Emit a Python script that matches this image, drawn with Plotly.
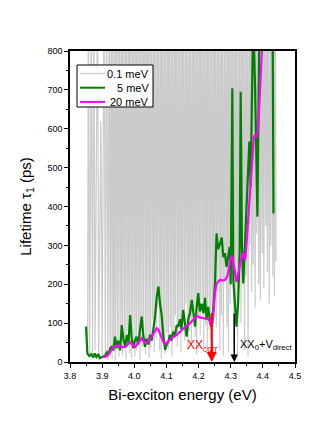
import plotly.graph_objects as go

# ---- data ----
gray_energy = [
    3.855, 3.857, 3.861, 3.866, 3.870, 3.874, 3.878, 3.886, 3.889, 3.896,
    3.900, 3.906, 3.910, 3.914, 3.918, 3.922, 3.925,
    3.928, 3.931, 3.933, 3.936, 3.939, 3.941, 3.944, 3.947, 3.950, 3.952,
    3.955, 3.958, 3.961, 3.963, 3.966, 3.969, 3.972, 3.974, 3.977, 3.980,
    3.983, 3.985, 3.988, 3.991, 3.994, 3.996, 3.999, 4.002, 4.005, 4.007,
    4.010, 4.013, 4.016, 4.018, 4.021, 4.024, 4.027, 4.029, 4.032, 4.035,
    4.038, 4.040, 4.043, 4.046, 4.049, 4.051, 4.054, 4.057, 4.060, 4.062,
    4.065, 4.068, 4.071, 4.073, 4.076, 4.079, 4.082, 4.084, 4.087, 4.090,
    4.093, 4.095, 4.098, 4.101, 4.104, 4.106, 4.109, 4.112, 4.115, 4.117,
    4.120, 4.123, 4.126, 4.128, 4.131, 4.134, 4.137, 4.139, 4.142, 4.145,
    4.148, 4.150, 4.153, 4.156, 4.159, 4.161, 4.164, 4.167, 4.170, 4.172,
    4.175, 4.178, 4.181, 4.183, 4.186, 4.189, 4.192, 4.194, 4.197, 4.200,
    4.203, 4.205, 4.208, 4.211, 4.214, 4.216, 4.219, 4.222, 4.225, 4.227,
    4.230, 4.233, 4.236, 4.238, 4.241, 4.244, 4.247, 4.249, 4.252, 4.255,
    4.258, 4.260, 4.263, 4.266, 4.269, 4.271, 4.274, 4.277, 4.280, 4.282,
    4.285, 4.288, 4.291, 4.293, 4.296, 4.299, 4.302, 4.304, 4.307, 4.310,
    4.313, 4.315, 4.318, 4.321, 4.324, 4.326, 4.329, 4.332, 4.335, 4.337,
    4.340, 4.343, 4.346, 4.348, 4.351, 4.354, 4.357, 4.359, 4.362, 4.365,
    4.368, 4.370, 4.373, 4.376, 4.379, 4.381, 4.384, 4.387, 4.390, 4.392,
    4.395, 4.398, 4.401, 4.403, 4.406, 4.409, 4.412, 4.414, 4.417, 4.420,
    4.423, 4.425, 4.428, 4.431, 4.434, 4.436, 4.439, 4.441,
]
gray_tau = [
    60, 1000, 20, 900, 10, 1000, 30, 1000, 5, 620,
    10, 1000, 20, 1000, 5, 1000, 15,
    1000, 8, 1000, 25, 900, 3, 1000, 45, 1000, 12,
    1000, 60, 1000, 18, 1000, 35, 1000, 6, 1000, 80,
    1000, 22, 1000, 10, 1000, 50, 1000, 15, 1000, 30,
    1000, 70, 1000, 5, 1000, 40, 1000, 95, 1000, 20,
    1000, 55, 1000, 12, 1000, 35, 1000, 110, 1000, 25,
    1000, 60, 1000, 140, 1000, 30, 1000, 8, 1000, 50,
    1000, 20, 1000, 75, 1000, 35, 1000, 90, 1000, 15,
    1000, 60, 1000, 120, 1000, 40, 1000, 85, 1000, 25,
    1000, 100, 1000, 55, 1000, 150, 1000, 30, 1000, 80,
    1000, 45, 1000, 130, 1000, 65, 1000, 20, 1000, 110,
    1000, 70, 1000, 160, 1000, 40, 1000, 95, 1000, 30,
    1000, 85, 1000, 60, 1000, 20, 1000, 140, 1000, 90,
    1000, 180, 1000, 30, 1000, 120, 1000, 15, 1000, 210,
    1000, 90, 1000, 25, 1000, 150, 1000, 240, 1000, 40,
    1000, 130, 1000, 20, 1000, 190, 1000, 100, 1000, 260,
    1000, 30, 1000, 220, 1000, 15, 1000, 300, 1000, 180,
    1000, 250, 1000, 140, 1000, 330, 1000, 200, 1000, 160,
    1000, 280, 1000, 190, 1000, 350, 1000, 230, 1000, 150,
    1000, 300, 1000, 220, 1000, 170, 1000, 260,
]

green_energy = [
    3.850, 3.854, 3.860, 3.866, 3.872, 3.877, 3.882, 3.888, 3.893, 3.899,
    3.904, 3.910, 3.915, 3.920, 3.925, 3.930, 3.935, 3.940, 3.945, 3.950,
    3.956, 3.961, 3.966, 3.972, 3.977, 3.982, 3.987, 3.992, 3.997, 4.002,
    4.007, 4.012, 4.018, 4.023, 4.028, 4.033, 4.038, 4.044, 4.049, 4.054,
    4.059, 4.065, 4.070, 4.075, 4.080, 4.085, 4.090, 4.096, 4.101, 4.106,
    4.111, 4.116, 4.121, 4.126, 4.132, 4.137, 4.142, 4.147, 4.152, 4.158,
    4.163, 4.168, 4.173, 4.179, 4.184, 4.189, 4.194, 4.199, 4.204, 4.210,
    4.215, 4.220, 4.225, 4.230, 4.236, 4.241, 4.246, 4.251, 4.256, 4.261,
    4.267, 4.272, 4.277, 4.282, 4.287, 4.292, 4.297, 4.300, 4.305, 4.308,
    4.313, 4.318, 4.323, 4.328, 4.331, 4.335, 4.339, 4.344, 4.350, 4.354,
    4.358, 4.362, 4.366, 4.370, 4.376, 4.380, 4.383, 4.387, 4.390, 4.400,
    4.410, 4.420, 4.430, 4.433,
]
green_tau = [
    91, 22, 15, 20, 12, 22, 13, 20, 10, 12,
    14, 18, 25, 20, 35, 39, 30, 65, 35, 55,
    30, 95, 60, 39, 70, 50, 121, 60, 35, 55,
    65, 45, 80, 117, 70, 39, 60, 45, 70, 55,
    82, 120, 168, 194, 150, 121, 70, 31, 45, 52,
    70, 55, 78, 65, 95, 91, 110, 85, 134, 100,
    65, 110, 125, 160, 115, 91, 140, 177, 130, 150,
    125, 165, 110, 142, 100, 91, 140, 202, 331, 290,
    305, 320, 270, 280, 245, 270, 296, 200, 704, 211,
    150, 91, 150, 288, 695, 300, 202, 300, 400, 520,
    567, 450, 620, 900, 700, 500, 374, 700, 900, 1000,
    1000, 1000, 950, 382,
]

magenta_energy = [
    3.902, 3.910, 3.917, 3.925, 3.935, 3.945, 3.956, 3.964, 3.972, 3.980,
    3.987, 3.995, 4.003, 4.013, 4.023, 4.030, 4.038, 4.046, 4.054, 4.062,
    4.070, 4.076, 4.083, 4.090, 4.096, 4.104, 4.111, 4.121, 4.132, 4.142,
    4.152, 4.162, 4.173, 4.183, 4.194, 4.202, 4.210, 4.220, 4.230, 4.236,
    4.241, 4.246, 4.251, 4.256, 4.262, 4.267, 4.275, 4.282, 4.288, 4.292,
    4.298, 4.303, 4.307, 4.310, 4.314, 4.318, 4.323, 4.328, 4.334, 4.339,
    4.343, 4.345, 4.350, 4.356, 4.362, 4.367, 4.372, 4.377, 4.380, 4.385,
    4.390, 4.396, 4.400,
]
magenta_tau = [
    14, 13, 16, 25, 39, 42, 42, 38, 39, 46,
    51, 44, 39, 50, 61, 52, 48, 55, 65, 78,
    87, 82, 68, 52, 46, 52, 58, 64, 70, 78,
    87, 93, 99, 108, 119, 115, 113, 112, 110, 105,
    91, 120, 180, 202, 208, 211, 210, 211, 218, 228,
    260, 275, 262, 245, 220, 206, 225, 250, 270, 280,
    270, 262, 314, 380, 450, 520, 580, 585, 578, 595,
    700, 798, 850,
]

series_names = ["0.1 meV", "5 meV", "20 meV"]
series_colors = ["#cbcbcb", "#008000", "#ff00ff"]
series_widths = [1.2, 2.2, 2.2]

x_ticks = [3.8, 3.9, 4.0, 4.1, 4.2, 4.3, 4.4, 4.5]
y_ticks = [0, 100, 200, 300, 400, 500, 600, 700, 800]

arrow_corr = {"energy": 4.241, "top": 129}
arrow_direct = {"energy": 4.311, "top": 128}

FONT = "Liberation Sans, Arial, sans-serif"

fig = go.Figure()
for xs, ys, name, col, w in zip([gray_energy, green_energy, magenta_energy],
                                [gray_tau, green_tau, magenta_tau],
                                series_names, series_colors, series_widths):
    fig.add_trace(go.Scatter(x=xs, y=ys, mode="lines", name=name,
                             line=dict(color=col, width=w), showlegend=False,
                             hoverinfo="skip"))

axis_common = dict(
    showgrid=False, zeroline=False, showline=True, linecolor="black", linewidth=1.5,
    mirror=True, ticks="outside", ticklen=4, tickwidth=1.2, tickcolor="black",
    tickfont=dict(family=FONT, size=9, color="black"), automargin=False,
)

fig.update_xaxes(
    range=[3.8, 4.5], tickvals=x_ticks, ticktext=[f"{v:.1f}" for v in x_ticks],
    minor=dict(ticks="outside", ticklen=2.5, tickcolor="black", dtick=0.05, tick0=3.8),
    title=dict(text="Bi-exciton energy (eV)", font=dict(family=FONT, size=15, color="black"), standoff=10),
    **axis_common,
)
fig.update_yaxes(
    range=[0, 800], tickvals=y_ticks,
    minor=dict(ticks="outside", ticklen=2.5, tickcolor="black", dtick=50, tick0=0),
    title=dict(text="Lifetime τ<sub>1</sub> (ps)", font=dict(family=FONT, size=15, color="black"), standoff=12),
    **axis_common,
)

# arrows
fig.add_annotation(x=arrow_corr["energy"], y=0, ax=arrow_corr["energy"], ay=arrow_corr["top"],
                   xref="x", yref="y", axref="x", ayref="y", showarrow=True, text="",
                   arrowhead=2, arrowsize=1, arrowwidth=2, arrowcolor="#ff0000")
fig.add_annotation(x=arrow_direct["energy"], y=0, ax=arrow_direct["energy"], ay=arrow_direct["top"],
                   xref="x", yref="y", axref="x", ayref="y", showarrow=True, text="",
                   arrowhead=2, arrowsize=1, arrowwidth=1.5, arrowcolor="black")
fig.add_annotation(x=4.158, y=40, xref="x", yref="y", xanchor="left", yanchor="middle",
                   text="XX<sub>corr</sub>", showarrow=False,
                   font=dict(family=FONT, size=12, color="#ff0000"))
fig.add_annotation(x=4.324, y=45, xref="x", yref="y", xanchor="left", yanchor="middle",
                   text="XX<sub>0</sub>+V<sub>direct</sub>", showarrow=False,
                   font=dict(family=FONT, size=11, color="black"))

# hand-drawn legend (pixel geometry converted to paper coords)
PL, PW, PB, PH = 70, 225, 362, 311
def px(xp):
    return (xp - PL) / PW
def py(yp):
    return (PB - yp) / PH

fig.add_shape(type="rect", xref="paper", yref="paper",
              x0=px(77), x1=px(153), y0=py(107), y1=py(65),
              line=dict(color="black", width=1), fillcolor="white", layer="above")
for i, (name, col) in enumerate(zip(series_names, series_colors)):
    yy = py(73.5 + 14.2 * i)
    fig.add_shape(type="line", xref="paper", yref="paper",
                  x0=px(80), x1=px(105), y0=yy, y1=yy,
                  line=dict(color=col, width=2 if i else 1.2), layer="above")
    fig.add_annotation(x=px(151), y=yy, xref="paper", yref="paper",
                       xanchor="right", yanchor="middle", text=name, showarrow=False,
                       font=dict(family=FONT, size=11, color="black"))

fig.update_layout(
    width=332, height=435,
    margin=dict(l=70, r=37, t=51, b=73),
    paper_bgcolor="white", plot_bgcolor="white",
    font=dict(family=FONT, color="black"),
    showlegend=False,
)

fig.write_html("out.html", config={"displayModeBar": False},
               post_script="document.body.style.margin='0';document.body.style.padding='0';")
